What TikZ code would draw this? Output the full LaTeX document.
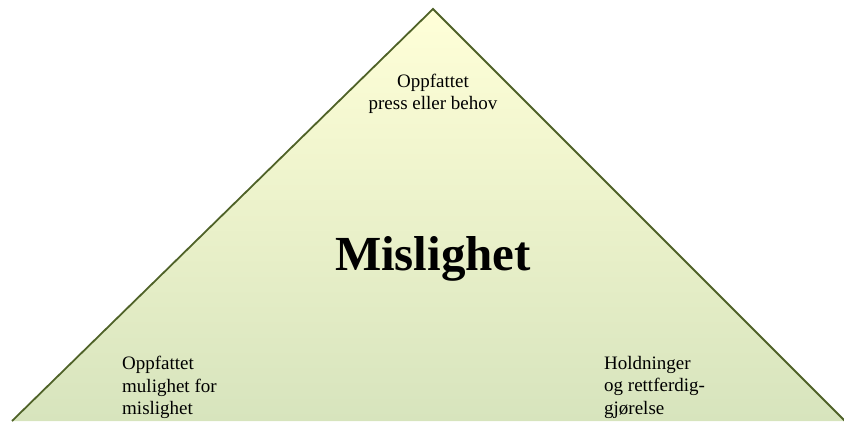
\documentclass[tikz,border=0pt]{standalone}
\usepackage{fontspec}
\setmainfont{Liberation Serif}
\usepackage{xcolor}
\usepackage{tikz}

\definecolor{edgegreen}{HTML}{4F6228}
\definecolor{topyellow}{HTML}{FFFFD8}
\definecolor{basegreen}{HTML}{D7E4BD}

\begin{document}
\begin{tikzpicture}[x=1pt, y=1pt,
    corner/.style={font=\fontsize{19}{22.5}\selectfont, inner sep=0pt}]
  \useasboundingbox (0,0) rectangle (844,421);
  \clip (0,0) rectangle (844,421);
  % triangle, base runs past the lower edge
  \coordinate (apex) at (433,412);
  \coordinate (left) at (12,0);
  \coordinate (right) at (845,0);
  \shade[top color=topyellow, bottom color=basegreen] (apex) -- (left) -- (right) -- cycle;
  \draw[edgegreen, line width=1.8pt, line join=miter] (left) -- (apex) -- (right);

  \node (need) [corner, align=center] at (433,327) {Oppfattet\\press eller behov};
  \node (fraud) [font=\fontsize{49}{53}\selectfont\bfseries] at (433,162) {Mislighet};
  \node (chance) [corner, align=left, anchor=north west] at (122,65) {Oppfattet\\mulighet for\\mislighet};
  \node (excuse) [corner, align=left, anchor=north west] at (604,65) {Holdninger\\og rettferdig-\\gjørelse};
\end{tikzpicture}
\end{document}
